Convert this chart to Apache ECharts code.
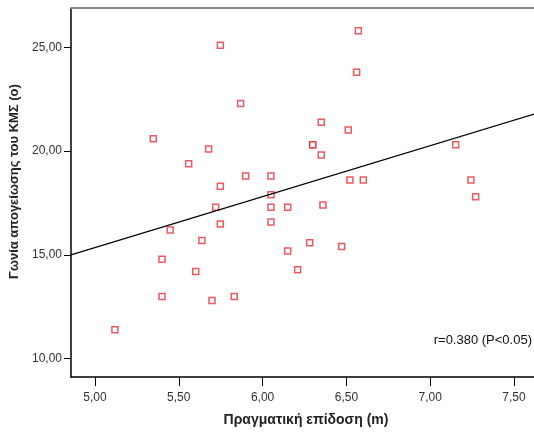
<!DOCTYPE html>
<html><head><meta charset="utf-8">
<script src="https://cdn.jsdelivr.net/npm/echarts@6/dist/echarts.min.js"></script>
<style>html,body{margin:0;padding:0;background:#fff}#c{width:534px;height:432px}</style>
</head><body><div id="c"></div>
<script>
const perf = [5.748,5.869,5.348,5.678,5.559,5.899,5.748,6.571,6.561,6.350,6.511,6.299,6.299,6.350,7.152,6.050,6.050,6.521,6.601,7.243,7.271,5.720,5.748,5.449,5.638,5.400,5.601,5.400,5.698,5.831,5.119,6.050,6.150,6.360,6.050,6.281,6.150,6.472,6.209];
const angle = [25.10,22.29,20.59,20.10,19.39,18.80,18.30,25.80,23.80,21.39,21.01,20.30,20.30,19.81,20.30,18.80,17.90,18.61,18.61,18.61,17.80,17.29,16.49,16.20,15.69,14.79,14.20,13.00,12.80,13.00,11.39,17.29,17.29,17.40,16.59,15.59,15.19,15.40,14.29];
const fitX = [4.857, 7.661];
const fitY = [15.0, 21.88];
const xTicks = [5.0, 5.5, 6.0, 6.5, 7.0, 7.5];
const yTicks = [10, 15, 20, 25];
const xName = 'Πραγματική επίδοση (m)';
const yName = 'Γωνία απογείωσης του ΚΜΣ (ο)';
const note = 'r=0.380 (P<0.05)';

const fmt = v => v.toFixed(2).replace('.', ',');
const chart = echarts.init(document.getElementById('c'));
chart.setOption({
  animation: false,
  grid: {left: 71, top: 8, width: 470, bottom: 55, outerBoundsMode: 'none', containLabel: false},
  xAxis: [{
    type: 'value', min: 4.857, max: 7.661,
    splitLine: {show: false},
    axisLine: {lineStyle: {color: '#000', width: 1.5}},
    axisTick: {customValues: xTicks, length: 9, lineStyle: {color: '#000'}},
    axisLabel: {customValues: xTicks, formatter: fmt, color: '#333', fontSize: 12, fontFamily: 'Liberation Sans', margin: 15},
    name: xName, nameLocation: 'middle', nameGap: 36,
    nameTextStyle: {fontWeight: 'bold', fontSize: 14, color: '#222', fontFamily: 'Liberation Sans'}
  }, {
    type: 'value', position: 'top', min: 4.857, max: 7.661,
    splitLine: {show: false}, axisTick: {show: false}, axisLabel: {show: false},
    axisLine: {show: true, lineStyle: {color: '#888', width: 2}}
  }],
  yAxis: {
    type: 'value', min: 9.12, max: 26.89,
    splitLine: {show: false},
    axisLine: {show: true, lineStyle: {color: '#000', width: 1.5}},
    axisTick: {show: true, customValues: yTicks, length: 7, lineStyle: {color: '#000'}},
    axisLabel: {customValues: yTicks, formatter: fmt, color: '#333', fontSize: 12, fontFamily: 'Liberation Sans', margin: 9},
    name: yName, nameLocation: 'middle', nameGap: 48,
    nameTextStyle: {fontWeight: 'bold', fontSize: 13, color: '#222', fontFamily: 'Liberation Sans', padding: [0, 0, 0, 22]}
  },
  series: [{
    type: 'line', data: fitX.map((x, i) => [x, fitY[i]]),
    symbol: 'none', lineStyle: {color: '#000', width: 1.2}, silent: true
  }, {
    type: 'scatter', data: perf.map((x, i) => [x, angle[i]]),
    symbol: 'rect', symbolSize: 6,
    itemStyle: {color: '#fff', borderColor: '#e8303a', borderWidth: 1.5}
  }],
  graphic: [{
    type: 'text', right: 2, top: 334,
    style: {text: note, font: '13px "Liberation Sans"', fill: '#111'}
  }]
});
</script></body></html>
